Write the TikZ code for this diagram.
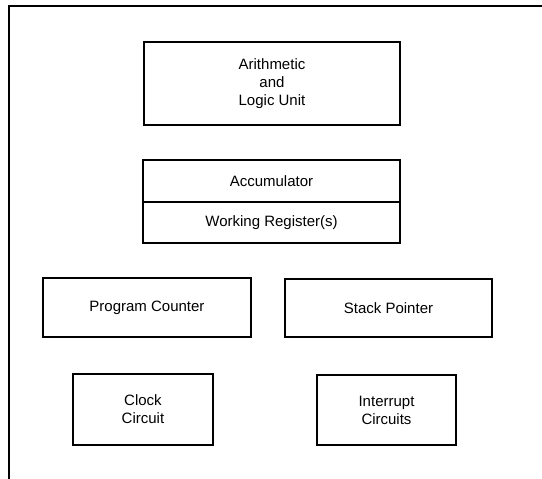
\documentclass[tikz,border=0pt]{standalone}
\usepackage{fontspec}
\setmainfont{Liberation Sans}
\usetikzlibrary{positioning}

\begin{document}
\begin{tikzpicture}[
    x=1pt, y=-1pt,
    line width=1.1pt,
    unit/.style={draw, rectangle, inner sep=0pt, outer sep=0pt, align=center,
        font=\fontsize{15}{18}\selectfont}, % Style for the CPU blocks
    frame/.style={line width=1.1pt} % Style for the outer border
]

    % === Page size ===
    \useasboundingbox (0,0) rectangle (542,479);

    % === Outer border (left and top only) ===
    \coordinate (fb) at (9,479);
    \coordinate (fc) at (9,6);
    \coordinate (fr) at (542,6);
    \draw[frame] (fb) -- (fc) -- (fr);

    % === Arithmetic and Logic Unit ===
    \node[unit, minimum width=256, minimum height=83] (alu) at (272,83.5)
        {Arithmetic\\and\\Logic Unit};

    % === Accumulator and working registers ===
    \node[unit, minimum width=257, minimum height=42] (acc) at (271.5,181) {Accumulator};
    \node[unit, minimum width=257, minimum height=41, below=0pt of acc] (reg) {Working Register(s)};

    % === Counters and pointers ===
    \node[unit, minimum width=208, minimum height=59] (pc) at (147,307.5) {Program Counter};
    \node[unit, minimum width=207, minimum height=58] (sp) at (388.5,308) {Stack Pointer};

    % === Clock and interrupt circuits ===
    \node[unit, minimum width=140, minimum height=71] (clk) at (143,409.5) {Clock\\Circuit};
    \node[unit, minimum width=139, minimum height=70] (irq) at (386.5,410) {Interrupt\\Circuits};

\end{tikzpicture}
\end{document}
